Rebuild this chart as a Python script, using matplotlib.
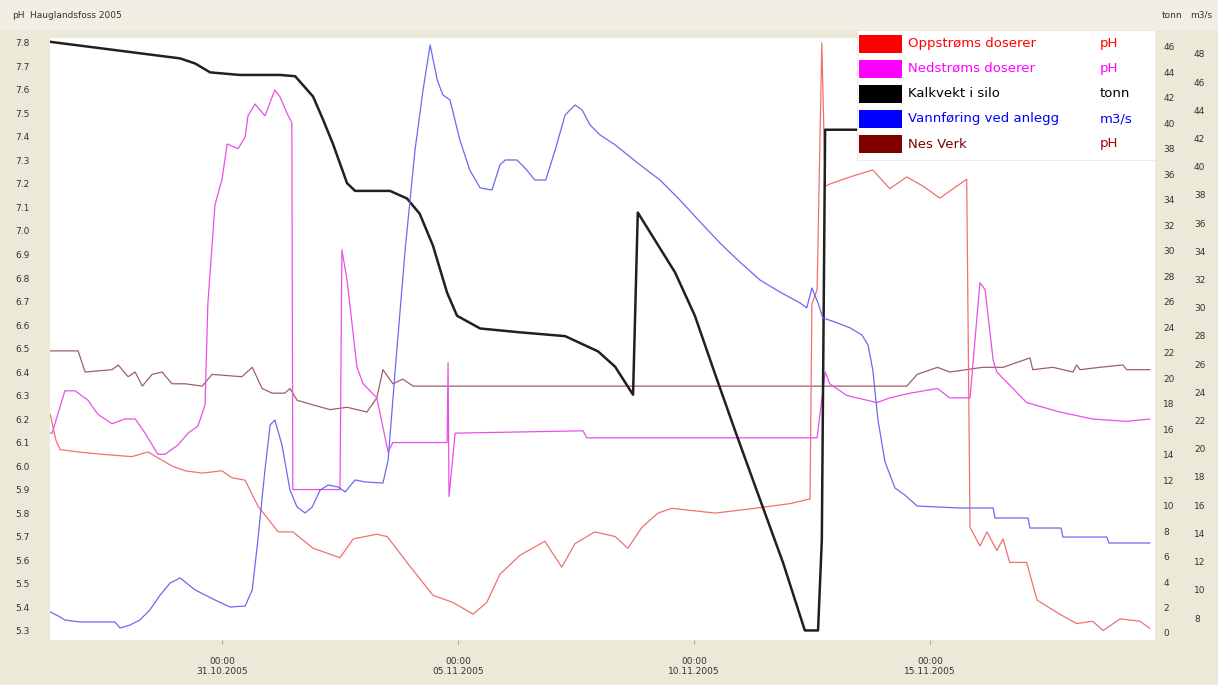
import matplotlib
matplotlib.use('Agg')
import matplotlib.pyplot as plt
import matplotlib.dates as mdates
from matplotlib.patches import Rectangle
import numpy as np
import pandas as pd

start = pd.Timestamp('2005-10-27 00:00')

# time in days since 27.10.2005 00:00

# Oppstrøms doserer (pH)
opp_t = [0.36, 0.48, 0.57, 0.95, 1.46, 2.09, 2.43, 2.94, 3.22, 3.58, 4.00, 4.21, 4.49,
         4.76, 5.19, 5.50, 5.93, 6.22, 6.50, 6.78, 7.28, 7.50, 7.92, 8.47, 8.89, 9.32,
         9.61, 9.89, 10.31, 10.84, 11.20, 11.48, 11.90, 12.33, 12.60, 12.90, 13.24,
         13.53, 14.45, 15.29, 16.03, 16.46, 16.50, 16.61, 16.71, 16.78, 16.88, 17.31,
         17.79, 18.15, 18.51, 18.86, 19.21, 19.78, 19.85, 20.06, 20.21, 20.42, 20.55,
         20.69, 21.05, 21.27, 21.75, 22.11, 22.45, 22.67, 23.03, 23.45, 23.66]
opp_ph = [6.22, 6.11, 6.07, 6.06, 6.05, 6.04, 6.06, 6.00, 5.98, 5.97, 5.98, 5.95, 5.94,
          5.83, 5.72, 5.72, 5.65, 5.63, 5.61, 5.69, 5.71, 5.70, 5.59, 5.45, 5.42, 5.37,
          5.42, 5.54, 5.62, 5.68, 5.57, 5.67, 5.72, 5.70, 5.65, 5.74, 5.80,
          5.82, 5.80, 5.82, 5.84, 5.86, 6.69, 6.75, 7.80, 7.19, 7.20, 7.23,
          7.26, 7.18, 7.23, 7.19, 7.14, 7.22, 5.74, 5.66, 5.72, 5.64, 5.69,
          5.59, 5.59, 5.43, 5.37, 5.33, 5.34, 5.30, 5.35, 5.34, 5.31]

# Nedstrøms doserer (pH)
ned_t = [0.36, 0.40, 0.67, 0.89, 1.16, 1.37, 1.67, 1.94, 2.16, 2.37, 2.64, 2.79, 3.07,
         3.28, 3.49, 3.64, 3.70, 3.85, 4.00, 4.11, 4.34, 4.49, 4.55, 4.70, 4.91, 5.12,
         5.23, 5.38, 5.48, 5.50, 6.50, 6.54, 6.65, 6.86, 6.99, 7.28, 7.52, 7.62, 8.77,
         8.79, 8.81, 8.94, 11.65, 11.73, 16.61, 16.78, 16.88, 17.24, 17.88, 18.15,
         18.58, 19.16, 19.42, 19.85, 20.06, 20.17, 20.34, 20.42, 21.05, 21.75, 22.45,
         23.17, 23.66]
ned_ph = [6.14, 6.14, 6.32, 6.32, 6.28, 6.22, 6.18, 6.20, 6.20, 6.14, 6.05, 6.05, 6.09,
          6.14, 6.17, 6.26, 6.69, 7.11, 7.22, 7.37, 7.35, 7.40, 7.49, 7.54, 7.49, 7.60,
          7.57, 7.50, 7.46, 5.90, 5.90, 6.92, 6.79, 6.42, 6.35, 6.29, 6.06, 6.10, 6.10,
          6.44, 5.87, 6.14, 6.15, 6.12, 6.12, 6.40, 6.35, 6.30, 6.27, 6.29,
          6.31, 6.33, 6.29, 6.29, 6.78, 6.75, 6.45, 6.40, 6.27, 6.23, 6.20,
          6.19, 6.20]

# Kalkvekt i silo (tonn)
kalk_t = [0.36, 3.11, 3.43, 3.75, 4.38, 5.23, 5.55, 5.93, 6.14, 6.35, 6.65, 6.82, 7.56,
          7.92, 8.19, 8.47, 8.77, 8.98, 9.47, 10.31, 11.27, 11.97, 12.33, 12.71, 12.81,
          13.60, 14.02, 14.45, 14.87, 15.29, 15.89, 16.35, 16.63, 16.71, 16.78, 23.77]
kalk_tonn = [46.4, 45.1, 44.7, 44.0, 43.8, 43.8, 43.7, 42.1, 40.3, 38.4, 35.3, 34.7, 34.7,
             34.1, 32.9, 30.4, 26.7, 24.9, 23.9, 23.6, 23.3, 22.1, 20.9, 18.7, 33.0,
             28.3, 24.9, 20.3, 15.9, 11.6, 5.5, 0.2, 0.2, 7.3, 39.5, 39.5]

# Vannføring ved anlegg (m3/s)
vann_t = [0.36, 0.57, 0.67, 0.99, 1.73, 1.84, 2.05, 2.26, 2.47, 2.69, 2.90, 3.11, 3.43,
          3.85, 4.17, 4.49, 4.64, 4.76, 4.91, 5.02, 5.12, 5.27, 5.44, 5.59, 5.76, 5.91,
          6.08, 6.25, 6.46, 6.61, 6.82, 7.03, 7.41, 7.52, 7.67, 7.88, 8.09, 8.26, 8.41,
          8.56, 8.68, 8.83, 9.04, 9.25, 9.47, 9.72, 9.89, 10.00, 10.25, 10.42, 10.63,
          10.86, 11.06, 11.27, 11.48, 11.63, 11.80, 12.01, 12.33, 12.86, 13.28, 13.70,
          14.13, 14.55, 14.97, 15.40, 15.82, 16.25, 16.39, 16.50, 16.63, 16.73, 16.99,
          17.31, 17.56, 17.69, 17.79, 17.90, 18.05, 18.26, 18.47, 18.73, 19.64, 20.34,
          20.38, 21.08, 21.12, 21.78, 21.82, 22.75, 22.79, 23.66]
vann_q = [8.43, 8.07, 7.86, 7.72, 7.72, 7.29, 7.50, 7.86, 8.57, 9.63, 10.48, 10.84, 9.99,
          9.28, 8.78, 8.85, 9.99, 13.53, 18.50, 21.69, 22.04, 20.27, 17.08, 15.87, 15.45,
          15.87, 17.08, 17.43, 17.29, 16.94, 17.79, 17.65, 17.57, 19.21, 25.59, 34.10,
          41.19, 45.45, 48.64, 46.16, 45.09, 44.74, 41.90, 39.77, 38.50, 38.35, 40.13,
          40.48, 40.48, 39.91, 39.06, 39.06, 41.19, 43.67, 44.38, 44.03, 42.96, 42.26,
          41.55, 40.13, 39.06, 37.65, 36.09, 34.60, 33.25, 31.97, 31.12, 30.34, 29.99,
          31.40, 30.34, 29.28, 28.99, 28.57, 28.07, 27.36, 25.59, 22.04, 19.06, 17.22,
          16.72, 15.94, 15.80, 15.80, 15.09, 15.09, 14.38, 14.38, 13.74, 13.74, 13.32,
          13.32]

# Nes Verk (pH)
nes_t = [0.36, 0.95, 1.10, 1.67, 1.80, 2.01, 2.16, 2.31, 2.52, 2.73, 2.94, 3.22, 3.58,
         3.79, 4.42, 4.64, 4.85, 5.06, 5.33, 5.44, 5.59, 5.93, 6.29, 6.65, 7.07, 7.28,
         7.41, 7.62, 7.83, 8.05, 18.51, 18.73, 19.16, 19.42, 20.12, 20.55, 21.12, 21.18,
         21.61, 22.03, 22.11, 22.18, 22.60, 23.09, 23.17, 23.66]
nes_ph = [6.49, 6.49, 6.40, 6.41, 6.43, 6.38, 6.40, 6.34, 6.39, 6.40, 6.35, 6.35, 6.34,
          6.39, 6.38, 6.42, 6.33, 6.31, 6.31, 6.33, 6.28, 6.26, 6.24, 6.25, 6.23, 6.29,
          6.41, 6.35, 6.37, 6.34, 6.34, 6.39, 6.42, 6.40, 6.42, 6.42, 6.46, 6.41,
          6.42, 6.40, 6.43, 6.41, 6.42, 6.43, 6.41, 6.41]

tick_days = ['2005-10-31', '2005-11-05', '2005-11-10', '2005-11-15']

names = ['Oppstrøms doserer', 'Nedstrøms doserer', 'Kalkvekt i silo',
         'Vannføring ved anlegg', 'Nes Verk']
units = ['pH', 'pH', 'tonn', 'm3/s', 'pH']
legend_colors = ['#ff0000', '#ff00ff', '#000000', '#0000ff', '#800000']
unit_colors = ['#ff0000', '#ff00ff', '#000000', '#0000ff', '#a00000']


def to_time(days):
    return start + pd.to_timedelta(np.array(days), unit='D')


W, H = 1218, 685
fig = plt.figure(figsize=(W / 100, H / 100), dpi=100, facecolor='#ece9d8')

# top strip
fig.add_artist(Rectangle((0, 1 - 30 / H), 1, 30 / H, transform=fig.transFigure,
                         facecolor='#f1efe4', edgecolor='none', zorder=0))

left, right, top, bottom = 50, 1155, 38, 640
ax = fig.add_axes([left / W, 1 - bottom / H, (right - left) / W, (bottom - top) / H])
ax.set_facecolor('white')

ax.plot(to_time(nes_t), nes_ph, color='#a06060', lw=0.9)
ax.plot(to_time(opp_t), opp_ph, color='#f07070', lw=0.9)
ax.plot(to_time(ned_t), ned_ph, color='#e850e8', lw=0.9)

ax_t = ax.twinx()
ax_t.plot(to_time(kalk_t), kalk_tonn, color='#202020', lw=1.8)

ax_q = ax.twinx()
ax_q.plot(to_time(vann_t), vann_q, color='#6a6af0', lw=0.9)

ax.set_xlim(to_time([0.355])[0], to_time([23.77])[0])
ax.set_ylim(5.26, 7.821)
ax_t.set_ylim(-0.55, 46.7)
ax_q.set_ylim(6.44, 49.13)

ax.set_yticks(np.round(np.arange(5.3, 7.85, 0.1), 1))
ax.yaxis.set_major_formatter(plt.FormatStrFormatter('%.1f'))
ax.tick_params(axis='y', length=0, pad=14.5, labelsize=6.5, labelcolor='#333333')

ax_t.set_yticks(np.arange(0, 47, 2))
ax_t.tick_params(axis='y', length=0, pad=6, labelsize=6.5, labelcolor='#333333')
ax_q.set_yticks(np.arange(8, 49, 2))
ax_q.tick_params(axis='y', length=0, pad=28, labelsize=6.5, labelcolor='#333333')

ax.set_xticks(pd.to_datetime(tick_days))
ax.xaxis.set_major_formatter(mdates.DateFormatter('%H:%M\n%d.%m.%Y'))
ax.tick_params(axis='x', length=3, width=0.6, color='#999999', pad=9,
               labelsize=6.5, labelcolor='#333333')

for a in (ax, ax_t, ax_q):
    for s in a.spines.values():
        s.set_visible(False)

fig.text(12 / W, 1 - 15 / H, 'pH', fontsize=6.5, color='#333333', va='center')
fig.text(30 / W, 1 - 15 / H, 'Hauglandsfoss 2005', fontsize=6.5, color='#333333', va='center')
fig.text(1162 / W, 1 - 15 / H, 'tonn', fontsize=6.5, color='#333333', va='center')
fig.text(1190 / W, 1 - 15 / H, 'm3/s', fontsize=6.5, color='#333333', va='center')

# legend table in the top right corner
fig.add_artist(Rectangle((857 / W, 1 - 160 / H), (1155 - 857) / W, 130 / H,
                         transform=fig.transFigure, facecolor='white',
                         edgecolor='#e8e8e8', lw=0.6, zorder=5))
row_y = [44, 68.5, 93.5, 118.5, 144]
for i in range(len(names)):
    y = row_y[i]
    fig.add_artist(Rectangle((859 / W, 1 - (y + 9) / H), 43 / W, 18 / H,
                             transform=fig.transFigure, facecolor=legend_colors[i],
                             edgecolor='none', zorder=6))
    fig.text(908 / W, 1 - y / H, names[i], color=legend_colors[i], fontsize=9.5,
             va='center', zorder=7)
    fig.text(1100 / W, 1 - y / H, units[i], color=unit_colors[i], fontsize=9.5,
             va='center', zorder=7)

fig.savefig('out.png', dpi=100, facecolor=fig.get_facecolor())
